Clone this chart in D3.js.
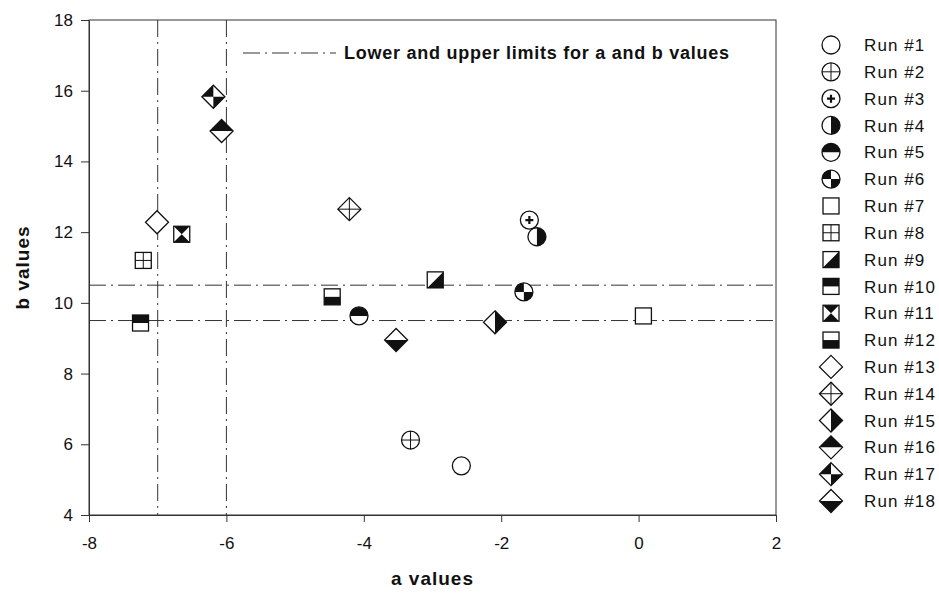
<!DOCTYPE html>
<html lang="en">
<head>
    <meta charset="utf-8">
    <title>a and b values per run</title>
    <style>
        body { margin: 0; background: #fff; }
        text { font-family: "Liberation Sans", Arial, sans-serif; fill: #111; }
        .axis path, .axis line { stroke: #333; }
        .axis text { font-size: 17px; font-family: "Liberation Sans", Arial, sans-serif; }
        .limit { stroke: #333; stroke-width: 1; stroke-dasharray: 17,5,2,5; fill: none; }
    </style>
</head>
<body>
<script src="https://cdn.jsdelivr.net/npm/d3@7"></script>
<script>
    // data
    var runs = ["Run #1", "Run #2", "Run #3", "Run #4", "Run #5", "Run #6", "Run #7", "Run #8", "Run #9",
        "Run #10", "Run #11", "Run #12", "Run #13", "Run #14", "Run #15", "Run #16", "Run #17", "Run #18"];
    var aValues = [-2.58, -3.32, -1.59, -1.48, -4.07, -1.67, 0.07, -7.21, -2.96,
        -7.25, -6.65, -4.46, -7.01, -4.21, -2.09, -6.07, -6.19, -3.53];
    var bValues = [5.39, 6.12, 12.34, 11.87, 9.63, 10.31, 9.63, 11.2, 10.65,
        9.43, 11.94, 10.17, 12.28, 12.65, 9.45, 14.86, 15.83, 8.95];
    var markers = ["circle", "circle-cross", "circle-plus", "circle-right", "circle-top", "circle-quarter",
        "square", "square-cross", "square-diag", "square-top", "square-hour", "square-bottom",
        "diamond", "diamond-cross", "diamond-right", "diamond-top", "diamond-quarter", "diamond-bottom"];
    var aLimits = [-7, -6];
    var bLimits = [9.5, 10.5];
    var xTicks = [-8, -6, -4, -2, 0, 2];
    var yTicks = [4, 6, 8, 10, 12, 14, 16, 18];
    var limitLabel = "Lower and upper limits for a and b values";

    var margin = {top: 20, right: 163, bottom: 81, left: 89},
        width = 939 - margin.left - margin.right,
        height = 596 - margin.top - margin.bottom;

    var x = d3.scaleLinear().domain([-8, 2]).range([0, width]);
    var y = d3.scaleLinear().domain([4, 18]).range([height, 0]);

    var svg = d3.select("body").append("svg")
        .attr("width", 939)
        .attr("height", 596);
    var g = svg.append("g")
        .attr("transform", "translate(" + margin.left + "," + margin.top + ")");

    svg.append("clipPath").attr("id", "plot")
        .append("rect").attr("width", width).attr("height", height);

    // limit lines
    var lim = g.append("g").attr("clip-path", "url(#plot)");
    lim.selectAll(".va").data(aLimits).enter().append("line")
        .attr("class", "limit")
        .attr("x1", function(d) { return x(d); }).attr("x2", function(d) { return x(d); })
        .attr("y1", 0).attr("y2", height);
    lim.selectAll(".hb").data(bLimits).enter().append("line")
        .attr("class", "limit")
        .attr("x1", 0).attr("x2", width)
        .attr("y1", function(d) { return y(d); }).attr("y2", function(d) { return y(d); });

    // axes (plain hyphen minus like the original)
    var fmt = function(d) { return String(d); };
    g.append("g").attr("class", "axis")
        .attr("transform", "translate(0," + height + ")")
        .call(d3.axisBottom(x).tickValues(xTicks).tickFormat(fmt).tickSize(7).tickSizeOuter(0).tickPadding(15))
        .selectAll("text").attr("fill", "#111");
    g.append("g").attr("class", "axis")
        .call(d3.axisLeft(y).tickValues(yTicks).tickFormat(fmt).tickSize(8).tickSizeOuter(0).tickPadding(8))
        .selectAll("text").attr("fill", "#111");
    g.append("rect")
        .attr("width", width).attr("height", height)
        .attr("fill", "none").attr("stroke", "#333");

    // marker drawing
    function drawMarker(sel, type) {
        var parts = type.split("-");
        var shape = parts[0], fill = parts[1];
        var ink = "#111", sw = 1.3;
        var r = 9, s = 8, d = 11.5;
        var outline;
        if (shape === "circle") {
            sel.append("circle").attr("r", r).attr("fill", "#fff");
            if (fill === "right") sel.append("path").attr("d", "M0," + (-r) + "A" + r + "," + r + " 0 0 1 0," + r + "Z").attr("fill", ink);
            if (fill === "top") sel.append("path").attr("d", "M" + (-r) + ",0A" + r + "," + r + " 0 0 1 " + r + ",0Z").attr("fill", ink);
            if (fill === "quarter") {
                sel.append("path").attr("d", "M0,0L" + (-r) + ",0A" + r + "," + r + " 0 0 1 0," + (-r) + "Z").attr("fill", ink);
                sel.append("path").attr("d", "M0,0L" + r + ",0A" + r + "," + r + " 0 0 1 0," + r + "Z").attr("fill", ink);
            }
            if (fill === "cross") sel.append("path").attr("d", "M" + (-r) + ",0H" + r + "M0," + (-r) + "V" + r).attr("stroke", ink).attr("stroke-width", 1);
            if (fill === "plus") sel.append("path").attr("d", "M-4,0H4M0,-4V4").attr("stroke", ink).attr("stroke-width", 2.2);
            outline = sel.append("circle").attr("r", r);
        } else if (shape === "square") {
            sel.append("rect").attr("x", -s).attr("y", -s).attr("width", 2 * s).attr("height", 2 * s).attr("fill", "#fff");
            if (fill === "cross") sel.append("path").attr("d", "M" + (-s) + ",0H" + s + "M0," + (-s) + "V" + s).attr("stroke", ink).attr("stroke-width", 1);
            if (fill === "diag") sel.append("path").attr("d", "M" + s + "," + (-s) + "L" + s + "," + s + "L" + (-s) + "," + s + "Z").attr("fill", ink);
            if (fill === "top") sel.append("rect").attr("x", -s).attr("y", -s).attr("width", 2 * s).attr("height", s).attr("fill", ink);
            if (fill === "bottom") sel.append("rect").attr("x", -s).attr("y", 0).attr("width", 2 * s).attr("height", s).attr("fill", ink);
            if (fill === "hour") sel.append("path").attr("d", "M" + (-s) + "," + (-s) + "H" + s + "L0,0Z M" + (-s) + "," + s + "H" + s + "L0,0Z").attr("fill", ink);
            outline = sel.append("rect").attr("x", -s).attr("y", -s).attr("width", 2 * s).attr("height", 2 * s);
        } else {
            var dia = "M0," + (-d) + "L" + d + ",0L0," + d + "L" + (-d) + ",0Z";
            sel.append("path").attr("d", dia).attr("fill", "#fff");
            if (fill === "cross") sel.append("path").attr("d", "M" + (-d) + ",0H" + d + "M0," + (-d) + "V" + d).attr("stroke", ink).attr("stroke-width", 1);
            if (fill === "right") sel.append("path").attr("d", "M0," + (-d) + "L" + d + ",0L0," + d + "Z").attr("fill", ink);
            if (fill === "top") sel.append("path").attr("d", "M" + (-d) + ",0L0," + (-d) + "L" + d + ",0Z").attr("fill", ink);
            if (fill === "bottom") sel.append("path").attr("d", "M" + (-d) + ",0L0," + d + "L" + d + ",0Z").attr("fill", ink);
            if (fill === "quarter") sel.append("path").attr("d", "M0,0L" + (-d) + ",0L0," + (-d) + "Z M0,0L" + d + ",0L0," + d + "Z").attr("fill", ink);
            outline = sel.append("path").attr("d", dia);
        }
        outline.attr("fill", "none").attr("stroke", ink).attr("stroke-width", sw);
    }

    // points
    var pts = runs.map(function(name, i) {
        return {name: name, a: aValues[i], b: bValues[i], marker: markers[i]};
    });
    g.selectAll(".pt").data(pts).enter().append("g")
        .attr("class", "pt")
        .attr("transform", function(d) { return "translate(" + x(d.a) + "," + y(d.b) + ")"; })
        .each(function(d) { drawMarker(d3.select(this), d.marker); });

    // axis titles
    svg.append("text")
        .attr("x", margin.left + width / 2).attr("y", 585)
        .attr("text-anchor", "middle")
        .style("font-size", "19px").style("font-weight", "bold").style("letter-spacing", "1px")
        .text("a values");
    svg.append("text")
        .attr("transform", "translate(29," + (margin.top + height / 2) + ") rotate(-90)")
        .attr("text-anchor", "middle")
        .style("font-size", "19px").style("font-weight", "bold").style("letter-spacing", "1px")
        .text("b values");

    // limit legend inside plot
    svg.append("line").attr("class", "limit")
        .attr("x1", 243).attr("x2", 336).attr("y1", 53).attr("y2", 53);
    svg.append("text")
        .attr("x", 344).attr("y", 59)
        .style("font-size", "18px").style("font-weight", "bold").style("letter-spacing", "0.75px")
        .text(limitLabel);

    // run legend
    var legY = d3.scalePoint().domain(runs).range([45, 501]);
    var leg = svg.selectAll(".leg").data(pts).enter().append("g")
        .attr("class", "leg")
        .attr("transform", function(d) { return "translate(831," + legY(d.name) + ")"; });
    leg.each(function(d) { drawMarker(d3.select(this), d.marker); });
    leg.append("text")
        .attr("x", 33).attr("dy", "0.36em")
        .style("font-size", "17px").style("letter-spacing", "1.1px")
        .text(function(d) { return d.name; });
</script>
</body>
</html>
